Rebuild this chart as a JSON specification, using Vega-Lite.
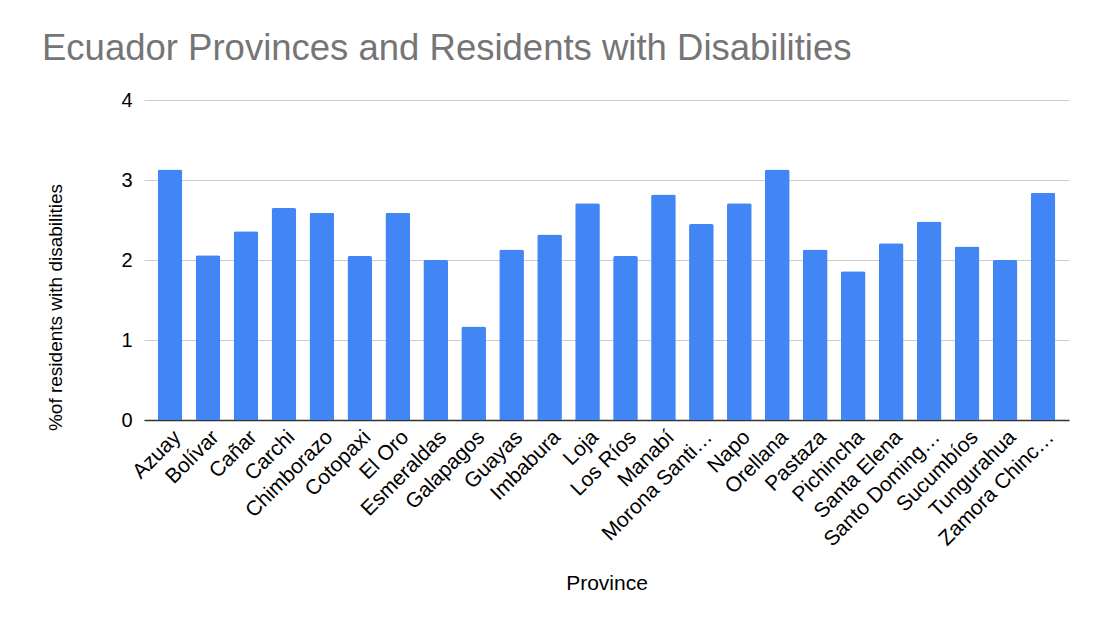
{
  "$schema": "https://vega.github.io/schema/vega-lite/v6.json",
  "width": 925,
  "height": 320,
  "autosize": {"type": "none"},
  "padding": {"left": 144, "top": 100, "right": 25, "bottom": 201},
  "background": "white",
  "title": {
    "text": "Ecuador Provinces and Residents with Disabilities",
    "anchor": "start",
    "frame": "group",
    "baseline": "alphabetic",
    "offset": 38,
    "dx": -102,
    "dy": 44,
    "font": "Liberation Sans",
    "fontSize": 36.5,
    "fontWeight": "normal",
    "color": "#757575"
  },
  "data": {
    "values": [
      {"province": "Azuay", "pct": 3.13},
      {"province": "Bolívar", "pct": 2.06},
      {"province": "Cañar", "pct": 2.36},
      {"province": "Carchi", "pct": 2.65},
      {"province": "Chimborazo", "pct": 2.59},
      {"province": "Cotopaxi", "pct": 2.05},
      {"province": "El Oro", "pct": 2.59},
      {"province": "Esmeraldas", "pct": 2.0},
      {"province": "Galapagos", "pct": 1.17},
      {"province": "Guayas", "pct": 2.13},
      {"province": "Imbabura", "pct": 2.32},
      {"province": "Loja", "pct": 2.71},
      {"province": "Los Ríos", "pct": 2.05},
      {"province": "Manabí", "pct": 2.82},
      {"province": "Morona Santiago", "pct": 2.45},
      {"province": "Napo", "pct": 2.71},
      {"province": "Orellana", "pct": 3.13},
      {"province": "Pastaza", "pct": 2.13},
      {"province": "Pichincha", "pct": 1.86},
      {"province": "Santa Elena", "pct": 2.21},
      {"province": "Santo Domingo de los Tsáchilas", "pct": 2.48},
      {"province": "Sucumbíos", "pct": 2.17},
      {"province": "Tungurahua", "pct": 2.0},
      {"province": "Zamora Chinchipe", "pct": 2.84}
    ]
  },
  "mark": {"type": "bar", "color": "#4285F4", "cornerRadiusTopLeft": 2, "cornerRadiusTopRight": 2},
  "encoding": {
    "x": {
      "field": "province",
      "type": "nominal",
      "sort": null,
      "scale": {"paddingInner": 0.35, "paddingOuter": 0.36},
      "axis": {
        "title": "Province",
        "titleFont": "Liberation Sans",
        "titleFontSize": 21,
        "titleFontWeight": "normal",
        "titleColor": "#000000",
        "titleBaseline": "alphabetic",
        "titleY": 169,
        "labelAngle": -45,
        "labelAlign": "right",
        "labelBaseline": "top",
        "labelFont": "Liberation Sans",
        "labelFontSize": 21,
        "labelColor": "#000000",
        "labelPadding": 6,
        "labelLimit": 155,
        "labelOverlap": false,
        "ticks": false,
        "domainColor": "#333333",
        "domainWidth": 1.5
      }
    },
    "y": {
      "field": "pct",
      "type": "quantitative",
      "scale": {"domain": [0, 4]},
      "axis": {
        "title": "%of residents with disabilities",
        "titleFont": "Liberation Sans",
        "titleFontSize": 19,
        "titleFontWeight": "normal",
        "titleColor": "#000000",
        "titleAlign": "center",
        "titleBaseline": "middle",
        "titleAngle": -90,
        "titleX": -89,
        "titleY": 207,
        "values": [0, 1, 2, 3, 4],
        "labelFont": "Liberation Sans",
        "labelFontSize": 20,
        "labelColor": "#000000",
        "labelPadding": 12,
        "ticks": false,
        "domain": false,
        "gridColor": "#cccccc",
        "gridWidth": 1
      }
    }
  },
  "config": {"view": {"stroke": null}}
}
